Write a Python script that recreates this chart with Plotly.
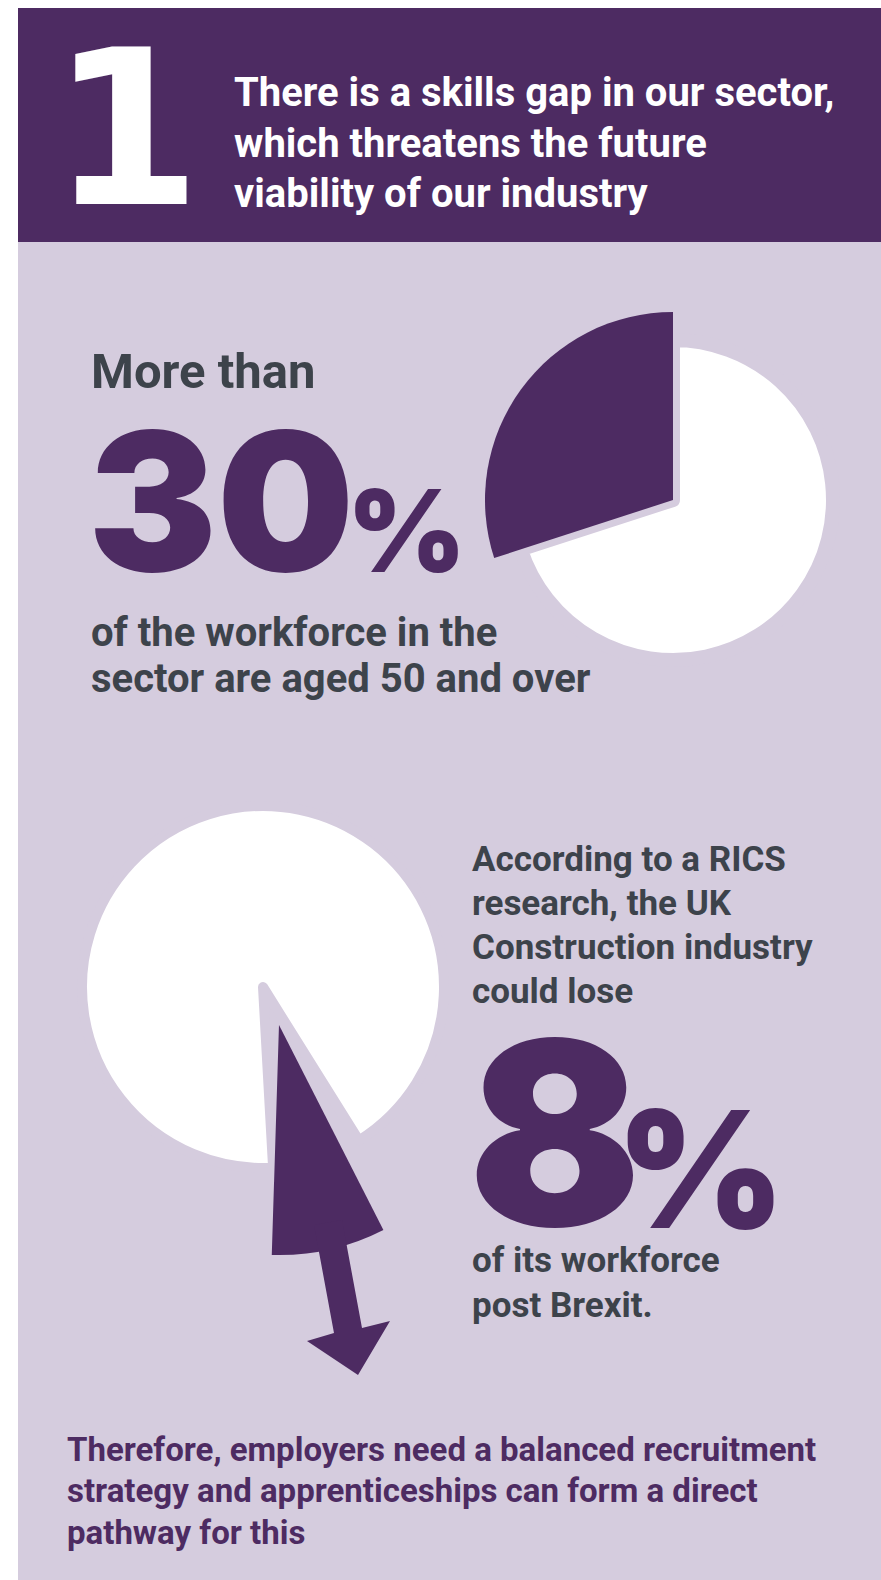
import plotly.graph_objects as go

W, H = 881, 1580
PURPLE = "#4d2b62"
PANEL = "#d5ccde"
GRAY = "#3d434b"
CLEAR = "rgba(0,0,0,0)"

# ---- data ----
aged50_labels = ["Aged 50 and over", "Under 50"]
aged50_values = [30, 70]
brexit_labels = ["Could be lost post Brexit", "Remaining workforce"]
brexit_values = [8, 92]

header_number = "1"
header_lines = ["There is a skills gap in our sector,",
                "which threatens the future",
                "viability of our industry"]
stat1_intro = "More than"
stat1_number = "30"
stat1_lines = ["of the workforce in the", "sector are aged 50 and over"]
stat2_intro_lines = ["According to a RICS", "research, the UK",
                     "Construction industry", "could lose"]
stat2_number = "8"
stat2_lines = ["of its workforce", "post Brexit."]
footer_lines = ["Therefore, employers need a balanced recruitment",
                "strategy and apprenticeships can form a direct",
                "pathway for this"]


def X(px):
    return px / W


def Y(py):
    return 1 - py / H


def dom(cx, cy, r):
    return dict(x=[X(cx - r), X(cx + r)], y=[Y(cy + r), Y(cy - r)])


GAP1 = 14
GAP2 = 10
ROT1 = -108   # first slice ends at 12 o'clock
ROT2 = 153    # first slice ends just past 6 o'clock
ROT2_WHITE = 148
fig = go.Figure()
# pie 1 : 30 %
fig.add_trace(go.Pie(labels=aged50_labels, values=aged50_values, sort=False,
                     direction="clockwise", rotation=ROT1,
                     marker=dict(colors=[CLEAR, "white"],
                                 line=dict(color=[PANEL, PANEL], width=[0, GAP1])),
                     textinfo="none", hoverinfo="skip", showlegend=False,
                     domain=dom(673, 500, 153 + GAP1 / 2)))
fig.add_trace(go.Pie(labels=aged50_labels, values=aged50_values, sort=False,
                     direction="clockwise", rotation=ROT1,
                     marker=dict(colors=[PURPLE, CLEAR], line=dict(width=0)),
                     textinfo="none", hoverinfo="skip", showlegend=False,
                     domain=dom(673, 500, 188)))
# pie 2 : 8 %
fig.add_trace(go.Pie(labels=brexit_labels, values=brexit_values, sort=False,
                     direction="clockwise", rotation=ROT2_WHITE,
                     marker=dict(colors=[CLEAR, "white"],
                                 line=dict(color=[PANEL, PANEL], width=[0, GAP2])),
                     textinfo="none", hoverinfo="skip", showlegend=False,
                     domain=dom(263, 987, 176 + GAP2 / 2)))
fig.add_trace(go.Pie(labels=brexit_labels, values=brexit_values, sort=False,
                     direction="clockwise", rotation=ROT2,
                     marker=dict(colors=[PURPLE, CLEAR], line=dict(width=0)),
                     textinfo="none", hoverinfo="skip", showlegend=False,
                     domain=dom(279, 1025, 230)))

shapes = [
    dict(type="rect", xref="paper", yref="paper", x0=X(18), x1=X(881), y0=Y(242), y1=Y(8),
         fillcolor=PURPLE, line=dict(width=0), layer="below"),
    dict(type="rect", xref="paper", yref="paper", x0=X(18), x1=X(881), y0=Y(1580), y1=Y(242),
         fillcolor=PANEL, line=dict(width=0), layer="below"),
]
arrow_pts = [(314, 1225), (342, 1220), (362, 1328), (390, 1321), (358, 1375), (307, 1341), (334, 1333)]
path = "M " + " L ".join(f"{X(a):.5f},{Y(b):.5f}" for a, b in arrow_pts) + " Z"
shapes.append(dict(type="path", xref="paper", yref="paper", path=path,
                   fillcolor=PURPLE, line=dict(width=0), layer="above"))

ann = []


def text(t, x, y, size, color, family="Roboto", weight="bold", xanchor="left"):
    ann.append(dict(text=t, x=X(x), y=Y(y), xref="paper", yref="paper",
                    xanchor=xanchor, yanchor="middle", showarrow=False,
                    font=dict(family=family, size=size, color=color, weight=weight)))


NUM = "Inter, Roboto"
text(header_number, 126, 129, 216, "white", family="DejaVu Sans", weight="bold", xanchor="center")
for i, t in enumerate(header_lines):
    text(t, 232, 93 + i * 50.4, 40, "white")

text(stat1_intro, 89, 371, 49, GRAY)
text(stat1_number, 86, 501, 193, PURPLE, family=NUM, weight=900)
text("%", 345, 530, 114, PURPLE, family=NUM, weight=900)
for i, t in enumerate(stat1_lines):
    text(t, 89, 632 + i * 46, 40, GRAY)

for i, t in enumerate(stat2_intro_lines):
    text(t, 470, 859 + i * 44, 35, GRAY)
text(stat2_number, 466, 1133, 256, PURPLE, family=NUM, weight=900)
text("%", 614, 1169, 162, PURPLE, family=NUM, weight=900)
for i, t in enumerate(stat2_lines):
    text(t, 470, 1260 + i * 45, 35, GRAY)

for i, t in enumerate(footer_lines):
    text(t, 65, 1449 + i * 41.5, 33, PURPLE)

fig.update_layout(width=W, height=H, margin=dict(l=0, r=0, t=0, b=0),
                  paper_bgcolor="white", plot_bgcolor="white",
                  shapes=shapes, annotations=ann, showlegend=False)
fig.write_html("out.html")
